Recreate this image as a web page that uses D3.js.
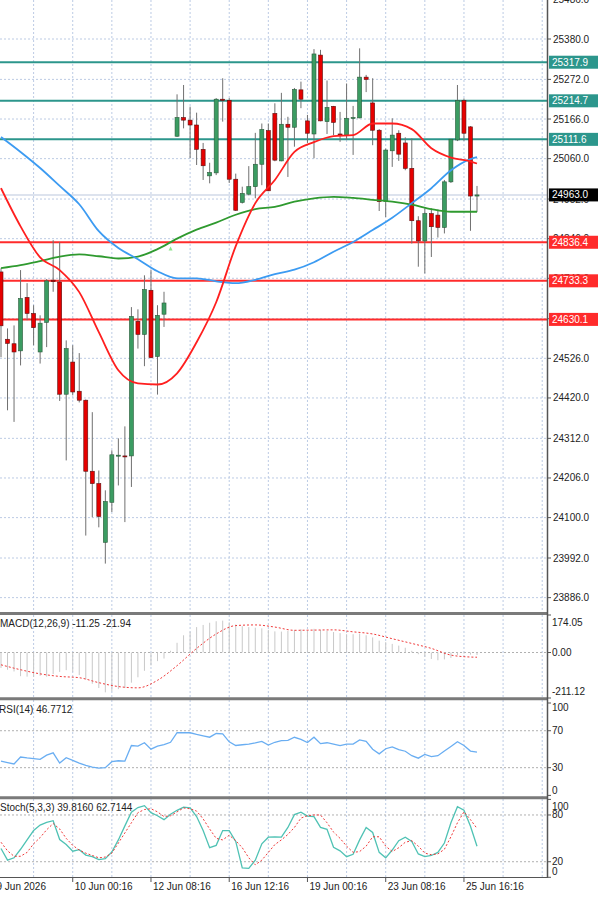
<!DOCTYPE html>
<html>
<head>
<meta charset="utf-8">
<script src="https://cdn.jsdelivr.net/npm/d3@7"></script>
<style>
body { margin: 0; background: #fff; }
svg text { font-family: "Liberation Sans", Arial, sans-serif; font-size: 10px; fill: #222; }
</style>
</head>
<body>
<svg></svg>
<script>
// candles, one slot per bar (slot 26 is an empty slot in the source chart)
var opens  = [24757,24577,24565,24546,24689,24646,24543,24622,24735,24730,24430,24516,24438,24414,24224,24191,24034,24141,24266,24265,24265,24625,24590,24708,24531,24644,null,
  25120,25170,25163,25150,25085,25014,25022,25219,25216,25005,24943,24965,24985,25045,25135,25181,25054,25152,25144,25244,25161,25126,25337,25159,25200,25126,25123,25168,25169,25278,25209,25136,24945,25081,25128,25102,25034,24894,24840,24913,24909,24876,24998,25110,25215,25145,24960];
var highs  = [24767,24606,24614,24762,24727,24668,24641,24738,24842,24837,24574,24561,24540,24416,24382,24226,24173,24280,24312,24344,24663,24657,24748,24762,24668,24704,null,
  25232,25257,25199,25183,25102,25049,25222,25275,25222,25020,24985,25040,25129,25154,25154,25208,25236,25172,25249,25266,25177,25353,25351,25269,25201,25185,25261,25201,25355,25284,25275,25139,25087,25168,25136,25117,25114,24906,24927,24927,24924,25003,25112,25257,25221,25147,24987];
var lows   = [24529,24387,24356,24507,24628,24561,24512,24556,24704,24412,24253,24427,24408,24052,24101,24074,23977,24115,24186,24088,24182,24552,24505,24526,24429,24610,null,
  25118,25141,25061,25043,25003,24994,25016,25159,24995,24920,24940,24962,24954,24989,24973,25053,25053,25011,25092,25195,25102,25061,25160,25126,25123,25105,25110,25070,25168,25238,25096,24920,24904,25038,25054,25029,24833,24771,24753,24797,24849,24860,24995,25107,25108,24867,24917];
var closes = [24613,24566,24543,24686,24646,24608,24620,24733,24731,24430,24552,24436,24414,24224,24191,24103,24143,24268,24267,24264,24638,24590,24710,24528,24641,24674,null,
  25170,25163,25150,25085,25041,25023,25219,25216,25005,24922,24967,24985,25045,25138,24974,25056,25152,25144,25245,25219,25128,25340,25161,25197,25157,25123,25168,25170,25278,25272,25136,24945,25083,25123,25072,25034,24894,24840,24913,24878,24876,24998,25112,25215,25128,24960,24963];

// moving averages, read every third bar
var maIdx   = [0,3,6,9,12,15,18,21,24,27,30,33,36,39,42,45,48,51,54,57,60,63,66,69,72,73];
var maRed   = [24981,24879,24796,24762,24703,24596,24494,24459,24456,24486,24569,24676,24826,24941,25003,25078,25104,25120,25123,25154,25154,25139,25088,25063,25053,25047];
var maBlue  = [25118,25078,25035,24987,24938,24866,24821,24791,24759,24740,24740,24732,24727,24736,24751,24763,24783,24811,24837,24869,24902,24941,24981,25029,25059,25064];
var maGreen = [24767,24775,24786,24798,24804,24799,24793,24798,24818,24846,24870,24889,24910,24925,24931,24945,24954,24958,24955,24950,24945,24937,24925,24918,24918,24918];

var levelsTeal = [25317.9, 25214.7, 25111.6];
var levelsRed  = [24836.4, 24733.3, 24630.1];
var lastPrice = 24963.0;
var arrowIdx = 26, arrowPrice = 24820;

var priceTicks = [25486,25380,25272,25166,25060,24952,24846,24740,24632,24526,24420,24312,24206,24100,23992,23886];

// indicators
var macdHist = [-72,-80,-88,-110,-112,-113,-108,-112,-100,-90,-82,-90,-105,-125,-145,-165,-185,-180,-170,-165,-140,-115,-85,-60,-40,-28,8,
  45,80,97,118,128,138,145,148,140,130,122,118,115,112,105,98,97,100,105,108,100,110,105,100,95,90,85,85,88,80,70,55,48,40,32,22,8,-8,-20,-30,-36,-32,-25,-12,-5,-10,-11.25];
var macdSignal = [-57,-80,-99,-111,-117,-140,-158,-164,-129,-61,19,86,125,128,118,103,104,105,96,86,64,42,19,-12,-21,-21.94];
var rsi = [37,35.5,34,41.5,40.5,39.7,39,43.5,46,35,40.8,38,35,32.5,30.5,29.5,30,36.5,37.5,37.2,54,53.4,57,50,53.4,55,57.5,67.8,67.8,67.8,
  66,64.5,63,67,66.5,58,54,54.8,55.5,56.8,58.5,54.5,57.5,59.2,59.5,62.9,60.7,57.2,63,56,57,55.6,53.8,55.6,55.6,60,58.5,50,45,50.5,
  52.5,49.5,47.8,43,40.3,44.3,42,43,48,53,58,54,48,46.77];
var stochMain = [37,22,25,36,48,60,67,70.5,72.7,48.5,42,33.5,35.5,28.5,26.5,22.8,24,32.5,48,66,83.5,89.5,92,83,79,74,81,86,90,89,
  78,60,38,41,60,60,46,12,11.5,22,43,51.5,52,51.5,64,80.5,83.5,78.5,77.8,64,61.6,38.5,34,26.5,29.5,48,64,57.5,32,25,
  35,47,51.5,46,30,26.6,28,32,44,70,90.7,86,65.5,39.816];
var stochSignal = [45,34,27,27,32,43,51,61,69,62,50,41,35,31,28,25,26,31,44,57,70,83,87,88,84,78,79,84,89,88,
  85,75,62,50,48,54,47,38,25,16,22,32,42,48,55,64,76,79,80,80,70,58,50,40,32,33,40,52,52,40,
  33,38,45,47,40,31,29,30,36,52,70,84,74,62.714];

var timeIdx = [-1, 11, 23, 35, 47, 59, 71];
var timeLabels = ["9 Jun 2026", "10 Jun 00:16", "12 Jun 08:16", "16 Jun 12:16", "19 Jun 00:16", "23 Jun 08:16", "25 Jun 16:16"];

var svgWidth = 600, svgHeight = 897, axisX = 547;
var svg = d3.select('svg').attr('width', svgWidth).attr('height', svgHeight);

var x = d3.scaleLinear().domain([0, 73]).range([1, 477]);
var y = d3.scaleLinear().domain([23992, 25380]).range([558, 39]);
var yMacd = d3.scaleLinear().domain([-211.12, 174.05]).range([698, 615]);
var yRsi = d3.scaleLinear().domain([0, 100]).range([795.4, 703]);
var ySto = d3.scaleLinear().domain([0, 100]).range([877.3, 799.4]);

var panels = [{top: 0, bottom: 612}, {top: 615, bottom: 698}, {top: 700, bottom: 797}, {top: 799, bottom: 877}];
var gridColor = "#bccbe4";

var defs = svg.append("defs");
panels.forEach(function(p, k) {
  defs.append("clipPath").attr("id", "clip" + k)
    .append("rect").attr("x", 0).attr("y", p.top).attr("width", axisX).attr("height", p.bottom - p.top);
});

// vertical grid in every panel
var vGrid = d3.range(5, 84, 6);
panels.forEach(function(p) {
  svg.append("g").selectAll("line").data(vGrid).enter().append("line")
    .attr("x1", function(d) { return x(d); }).attr("x2", function(d) { return x(d); })
    .attr("y1", p.top).attr("y2", p.bottom)
    .attr("stroke", gridColor).attr("stroke-dasharray", "2,2");
});

// horizontal grid
svg.append("g").selectAll("line").data(priceTicks).enter().append("line")
  .attr("x1", 0).attr("x2", axisX)
  .attr("y1", function(d) { return y(d); }).attr("y2", function(d) { return y(d); })
  .attr("stroke", gridColor).attr("stroke-dasharray", "2,2");
[[yMacd, 0], [yRsi, 70], [yRsi, 30], [ySto, 80], [ySto, 20]].forEach(function(g) {
  svg.append("line").attr("x1", 0).attr("x2", axisX).attr("y1", g[0](g[1])).attr("y2", g[0](g[1]))
    .attr("stroke", "#b0b0b0").attr("stroke-dasharray", "2,2");
});

var main = svg.append("g").attr("clip-path", "url(#clip0)");

// bid line
main.append("line").attr("x1", 0).attr("x2", axisX).attr("y1", y(lastPrice)).attr("y2", y(lastPrice))
  .attr("stroke", "#dde3ee").attr("stroke-width", 2);

// level lines
main.selectAll(".lvT").data(levelsTeal).enter().append("line")
  .attr("x1", 0).attr("x2", axisX)
  .attr("y1", function(d) { return y(d); }).attr("y2", function(d) { return y(d); })
  .attr("stroke", "#2c968c").attr("stroke-width", 2);
main.selectAll(".lvR").data(levelsRed).enter().append("line")
  .attr("x1", 0).attr("x2", axisX)
  .attr("y1", function(d) { return y(d); }).attr("y2", function(d) { return y(d); })
  .attr("stroke", "#ff2b2b").attr("stroke-width", 2);

// candles
var candles = opens.map(function(o, i) {
  return {i: i, o: o, h: highs[i], l: lows[i], c: closes[i]};
}).filter(function(d) { return d.o !== null; });

main.selectAll(".wick").data(candles).enter().append("line")
  .attr("x1", function(d) { return x(d.i); }).attr("x2", function(d) { return x(d.i); })
  .attr("y1", function(d) { return y(d.h); }).attr("y2", function(d) { return y(d.l); })
  .attr("stroke", "#707070").attr("stroke-width", 1);

main.selectAll(".body").data(candles).enter().append("rect")
  .attr("x", function(d) { return x(d.i) - 2; })
  .attr("y", function(d) { return y(Math.max(d.o, d.c)); })
  .attr("width", 4)
  .attr("height", function(d) { return Math.max(1, Math.abs(y(d.o) - y(d.c))); })
  .attr("fill", function(d) { return d.c >= d.o ? "#3b9c62" : "#e60000"; })
  .attr("stroke", function(d) { return d.c >= d.o ? "#2a5a3a" : "#5a1010"; })
  .attr("stroke-width", 0.6);

// moving averages
function maPath(vals) {
  return d3.line()
    .x(function(d, k) { return x(maIdx[k]); })
    .y(function(d) { return y(d); })
    .curve(d3.curveMonotoneX)(vals);
}
main.append("path").attr("d", maPath(maGreen)).attr("fill", "none").attr("stroke", "#2f9a2f").attr("stroke-width", 1.8);
main.append("path").attr("d", maPath(maBlue)).attr("fill", "none").attr("stroke", "#3c9bf2").attr("stroke-width", 1.8);
main.append("path").attr("d", maPath(maRed)).attr("fill", "none").attr("stroke", "#ff1f1f").attr("stroke-width", 1.8);

// signal arrow
main.append("path")
  .attr("d", "M" + (x(arrowIdx) - 2) + "," + (y(arrowPrice) + 2) + " L" + x(arrowIdx) + "," + (y(arrowPrice) - 2) + " L" + (x(arrowIdx) + 2) + "," + (y(arrowPrice) + 2) + " Z")
  .attr("fill", "#8ee68e");

// MACD
var gMacd = svg.append("g").attr("clip-path", "url(#clip1)");
gMacd.selectAll("line").data(macdHist).enter().append("line")
  .attr("x1", function(d, i) { return x(i); }).attr("x2", function(d, i) { return x(i); })
  .attr("y1", yMacd(0)).attr("y2", function(d) { return yMacd(d); })
  .attr("stroke", "#c8c8c8").attr("stroke-width", 1);
gMacd.append("path")
  .attr("d", d3.line().x(function(d, k) { return x(maIdx[k]); }).y(function(d) { return yMacd(d); }).curve(d3.curveMonotoneX)(macdSignal))
  .attr("fill", "none").attr("stroke", "#f03a3a").attr("stroke-width", 1).attr("stroke-dasharray", "2,2");

// RSI
var gRsi = svg.append("g").attr("clip-path", "url(#clip2)");
gRsi.append("path")
  .attr("d", d3.line().x(function(d, i) { return x(i); }).y(function(d) { return yRsi(d); })(rsi))
  .attr("fill", "none").attr("stroke", "#6aaef2").attr("stroke-width", 1.3);

// Stochastic
var gSto = svg.append("g").attr("clip-path", "url(#clip3)");
gSto.append("path")
  .attr("d", d3.line().x(function(d, i) { return x(i); }).y(function(d) { return ySto(d); })(stochMain))
  .attr("fill", "none").attr("stroke", "#4fc2b4").attr("stroke-width", 1.3);
gSto.append("path")
  .attr("d", d3.line().x(function(d, i) { return x(i); }).y(function(d) { return ySto(d); })(stochSignal))
  .attr("fill", "none").attr("stroke", "#f03a3a").attr("stroke-width", 1).attr("stroke-dasharray", "2,2");

// panel separators and axes
[613.5, 698.8, 797.8].forEach(function(sy) {
  svg.append("line").attr("x1", 0).attr("x2", axisX + 1).attr("y1", sy).attr("y2", sy)
    .attr("stroke", "#7a7a7a").attr("stroke-width", 3);
});
svg.append("line").attr("x1", 0).attr("x2", axisX + 1).attr("y1", 877.5).attr("y2", 877.5).attr("stroke", "#555");
svg.append("line").attr("x1", axisX + 0.5).attr("x2", axisX + 0.5).attr("y1", 0).attr("y2", 878).attr("stroke", "#555").attr("stroke-width", 1.5);

// price axis labels
var pa = svg.append("g");
pa.selectAll("line").data(priceTicks).enter().append("line")
  .attr("x1", axisX).attr("x2", axisX + 4)
  .attr("y1", function(d) { return y(d); }).attr("y2", function(d) { return y(d); })
  .attr("stroke", "#555");
pa.selectAll("text").data(priceTicks).enter().append("text")
  .attr("x", 553).attr("y", function(d) { return y(d); }).attr("dy", "0.35em")
  .text(function(d) { return d.toFixed(1); });

function priceBox(v, fill) {
  svg.append("rect").attr("x", 549).attr("y", y(v) - 6.5).attr("width", 49).attr("height", 13).attr("fill", fill);
  svg.append("text").attr("x", 552).attr("y", y(v)).attr("dy", "0.35em").style("fill", "#fff").text(v.toFixed(1));
}
levelsTeal.forEach(function(v) { priceBox(v, "#2c968c"); });
levelsRed.forEach(function(v) { priceBox(v, "#ff2b2b"); });
priceBox(lastPrice, "#000");

// indicator axis labels
function sideLabel(v, ys, txt, lo, hi) {
  var py = Math.min(Math.max(ys(v), lo), hi);
  svg.append("line").attr("x1", axisX).attr("x2", axisX + 4).attr("y1", ys(v)).attr("y2", ys(v)).attr("stroke", "#555");
  svg.append("text").attr("x", 552).attr("y", py).attr("dy", "0.35em").text(txt);
}
sideLabel(174.05, yMacd, "174.05", 622.5, 691.5);
sideLabel(0, yMacd, "0.00", 622.5, 691.5);
sideLabel(-211.12, yMacd, "-211.12", 622.5, 691.5);
[100, 70, 30, 0].forEach(function(v) { sideLabel(v, yRsi, String(v), 707, 790.5); });
[100, 80, 20, 0].forEach(function(v) { sideLabel(v, ySto, String(v), 806, 871); });

// indicator titles
svg.append("text").attr("x", 0).attr("y", 623).attr("dy", "0.35em").text("MACD(12,26,9) -11.25 -21.94");
svg.append("text").attr("x", -1).attr("y", 709).attr("dy", "0.35em").text("RSI(14) 46.7712");
svg.append("text").attr("x", 0).attr("y", 807).attr("dy", "0.35em").text("Stoch(5,3,3) 39.8160 62.7144");

// time axis
var ta = svg.append("g");
ta.selectAll("line").data(timeIdx).enter().append("line")
  .attr("x1", function(d) { return x(d); }).attr("x2", function(d) { return x(d); })
  .attr("y1", 878).attr("y2", 882).attr("stroke", "#555");
ta.selectAll("text").data(timeLabels).enter().append("text")
  .attr("x", function(d, k) { return x(timeIdx[k]) + 2; }).attr("y", 886).attr("dy", "0.35em")
  .text(function(d) { return d; });
</script>
</body>
</html>
